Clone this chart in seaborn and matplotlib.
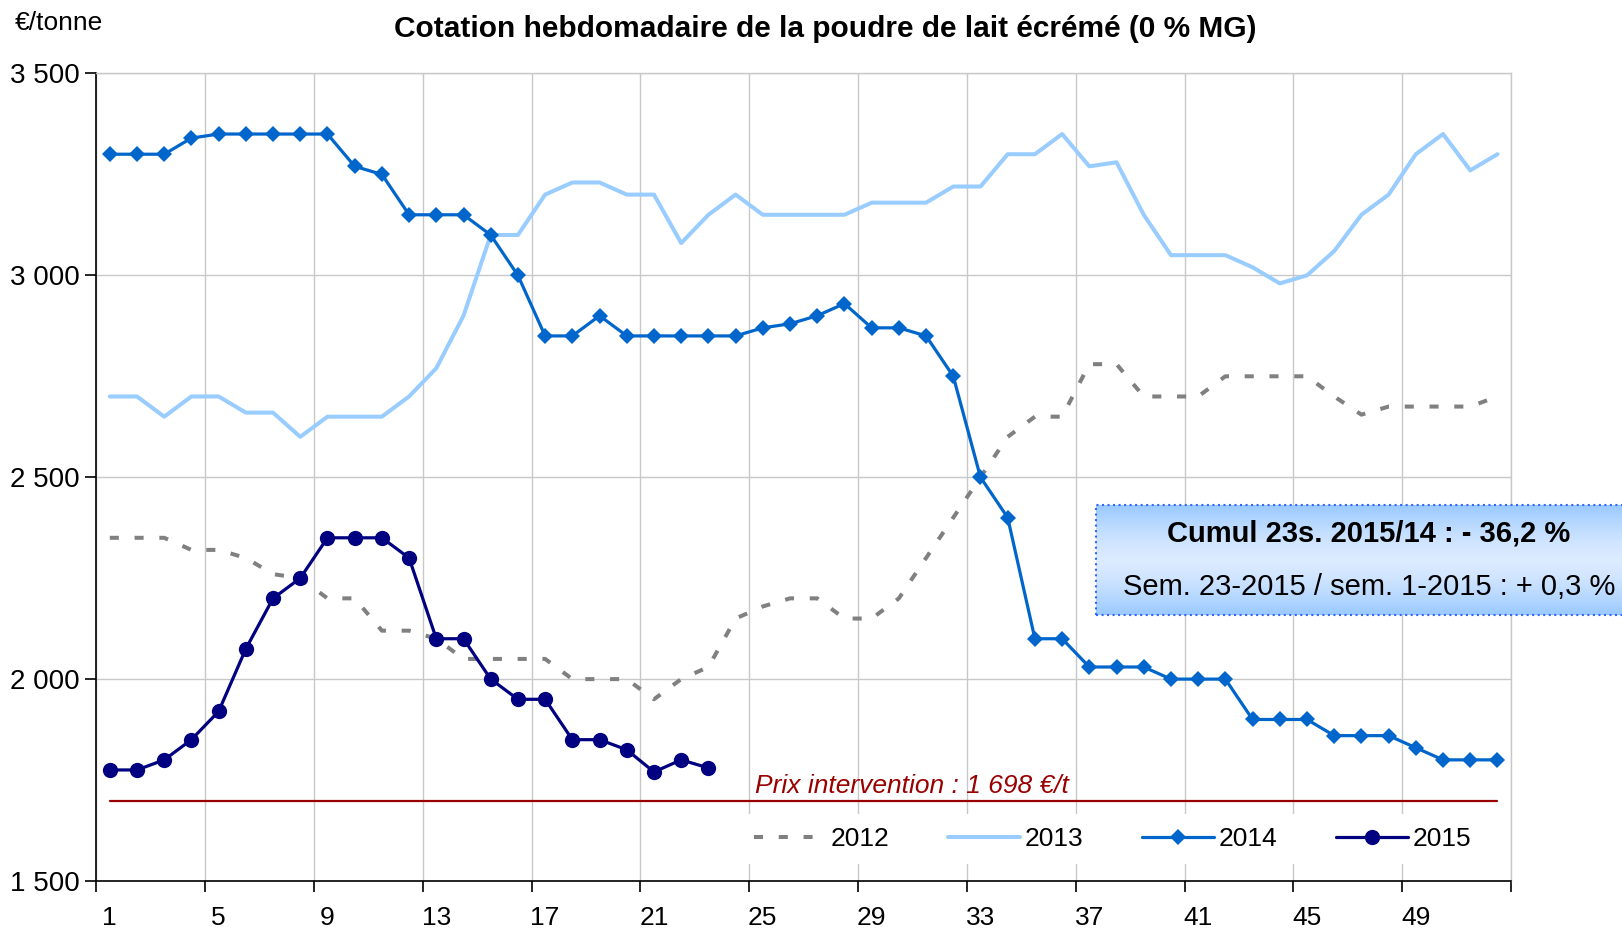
import numpy as np
import pandas as pd
import matplotlib
matplotlib.use("Agg")
import matplotlib.pyplot as plt
from matplotlib.patches import Rectangle
import seaborn as sns

# weekly skim milk powder quotations, EUR/tonne
weeks = list(range(1, 53))
prix_2012 = [2350, 2350, 2350, 2320, 2320, 2300, 2260, 2250, 2200, 2200,
             2120, 2120, 2100, 2050, 2050, 2050, 2050, 2000, 2000, 2000,
             1950, 2000, 2030, 2150, 2180, 2200, 2200, 2150, 2150, 2200,
             2300, 2400, 2500, 2600, 2650, 2650, 2780, 2780, 2700, 2700,
             2700, 2750, 2750, 2750, 2750, 2700, 2655, 2675, 2675, 2675,
             2675, 2700]
prix_2013 = [2700, 2700, 2650, 2700, 2700, 2660, 2660, 2600, 2650, 2650,
             2650, 2700, 2770, 2900, 3100, 3100, 3200, 3230, 3230, 3200,
             3200, 3080, 3150, 3200, 3150, 3150, 3150, 3150, 3180, 3180,
             3180, 3220, 3220, 3300, 3300, 3350, 3270, 3280, 3150, 3050,
             3050, 3050, 3020, 2980, 3000, 3060, 3150, 3200, 3300, 3350,
             3260, 3300]
prix_2014 = [3300, 3300, 3300, 3340, 3350, 3350, 3350, 3350, 3350, 3270,
             3250, 3150, 3150, 3150, 3100, 3000, 2850, 2850, 2900, 2850,
             2850, 2850, 2850, 2850, 2870, 2880, 2900, 2930, 2870, 2870,
             2850, 2750, 2500, 2400, 2100, 2100, 2030, 2030, 2030, 2000,
             2000, 2000, 1900, 1900, 1900, 1860, 1860, 1860, 1830, 1800,
             1800, 1800]
weeks_2015 = list(range(1, 24))
prix_2015 = [1775, 1775, 1800, 1850, 1920, 2075, 2200, 2250, 2350, 2350,
             2350, 2300, 2100, 2100, 2000, 1950, 1950, 1850, 1850, 1825,
             1770, 1800, 1780]
prix_intervention = 1698

x_labels = list(range(1, 53, 4))
y_ticks = [1500, 2000, 2500, 3000, 3500]

titre = "Cotation hebdomadaire de la poudre de lait écrémé (0 % MG)"
unite = "€/tonne"
texte_intervention = "Prix intervention : 1 698 €/t"
cumul_1 = "Cumul 23s. 2015/14 : - 36,2 %"
cumul_2 = "Sem. 23-2015 / sem. 1-2015 : + 0,3 %"

sns.set_style("white")
plt.rcParams["font.family"] = ["Liberation Sans", "DejaVu Sans"]
plt.rcParams["text.color"] = "black"
plt.rcParams["xtick.color"] = "black"
plt.rcParams["ytick.color"] = "black"

fig = plt.figure(figsize=(16.22, 9.30), dpi=100)
ax = fig.add_axes([0.0593, 0.0527, 0.8723, 0.8683])

grid_col = "#C8C8C8"

df12 = pd.DataFrame({"semaine": weeks, "prix": prix_2012})
df13 = pd.DataFrame({"semaine": weeks, "prix": prix_2013})
df14 = pd.DataFrame({"semaine": weeks, "prix": prix_2014})
df15 = pd.DataFrame({"semaine": weeks_2015, "prix": prix_2015})
dfint = pd.DataFrame({"semaine": weeks, "prix": [prix_intervention] * len(weeks)})

sns.lineplot(data=dfint, x="semaine", y="prix", ax=ax, color="#990000",
             lw=1.6, zorder=2)
sns.lineplot(data=df12, x="semaine", y="prix", ax=ax, color="#808080",
             lw=2.9, linestyle=(0, (2.25, 3.9)), dash_capstyle="butt",
             label="2012", zorder=3)
sns.lineplot(data=df13, x="semaine", y="prix", ax=ax, color="#99CCFF",
             lw=2.9, label="2013", zorder=3)
sns.lineplot(data=df14, x="semaine", y="prix", ax=ax, color="#0066CC",
             lw=2.3, marker="D", markersize=8.5, markeredgewidth=0,
             label="2014", zorder=4)
sns.lineplot(data=df15, x="semaine", y="prix", ax=ax, color="#000080",
             lw=2.3, marker="o", markersize=11, markeredgewidth=0,
             label="2015", zorder=5)

ax.set_xlim(0.5, 52.5)
ax.set_ylim(1500, 3500)
ax.set_xlabel("")
ax.set_ylabel("")

ax.set_yticks(y_ticks)
ax.set_yticklabels([f"{v:,}".replace(",", " ") for v in y_ticks],
                   fontsize=20)
ax.set_xticks(x_labels)
ax.set_xticklabels([str(v) for v in x_labels], fontsize=19)
ax.set_xticks(np.arange(0.5, 53, 4), minor=True)
ax.tick_params(axis="x", which="major", length=0, pad=18)
ax.tick_params(axis="x", which="minor", length=8, width=1.2, color="black",
               direction="out", bottom=True)
ax.tick_params(axis="y", length=8, width=1.2, color="black",
               direction="out", left=True, pad=4)

ax.grid(False)
ax.yaxis.grid(True, color=grid_col, lw=1)
ax.xaxis.grid(True, which="minor", color=grid_col, lw=1)
for s in ["left", "bottom"]:
    ax.spines[s].set_color("black")
    ax.spines[s].set_linewidth(1.2)
for s in ["top", "right"]:
    ax.spines[s].set_color(grid_col)
    ax.spines[s].set_linewidth(1)

ax.text(24.7, 1718, texte_intervention, color="#990000", style="italic",
        fontsize=19, va="baseline", ha="left", zorder=6)

leg = ax.legend(loc="center", bbox_to_anchor=(0.686, 0.098),
                bbox_transform=fig.transFigure, ncol=4, fontsize=19,
                frameon=True, framealpha=1, facecolor="white",
                edgecolor="none", fancybox=False, handlelength=2.73,
                handletextpad=0.2, columnspacing=2.2, numpoints=1,
                borderpad=0.5)
leg.set_zorder(7)

fig.text(0.5086, 0.969, titre, fontsize=21.5, fontweight="bold",
         ha="center", va="center")
fig.text(0.009, 0.975, unite, fontsize=19, ha="left", va="center")

# gradient annotation box
box = fig.add_axes([0.676, 0.339, 0.34, 0.118])
top = np.array([0.60, 0.79, 1.0])
mid = np.array([0.86, 0.92, 1.0])
t = np.abs(np.linspace(-1, 1, 100))[:, None]
grad = (mid + (top - mid) * t ** 1.5)[:, None, :].repeat(2, axis=1)
box.imshow(grad, aspect="auto", extent=[0, 1, 0, 1], interpolation="bilinear")
box.set_axis_off()
box.add_patch(Rectangle((0, 0), 1, 1, transform=box.transAxes, fill=False,
                        edgecolor="#3366FF", lw=1.5, linestyle=":",
                        clip_on=False))
fig.text(0.844, 0.426, cumul_1, fontsize=21, fontweight="bold",
         ha="center", va="center")
fig.text(0.844, 0.369, cumul_2, fontsize=21, ha="center", va="center")

fig.savefig("out.png", dpi=100)
